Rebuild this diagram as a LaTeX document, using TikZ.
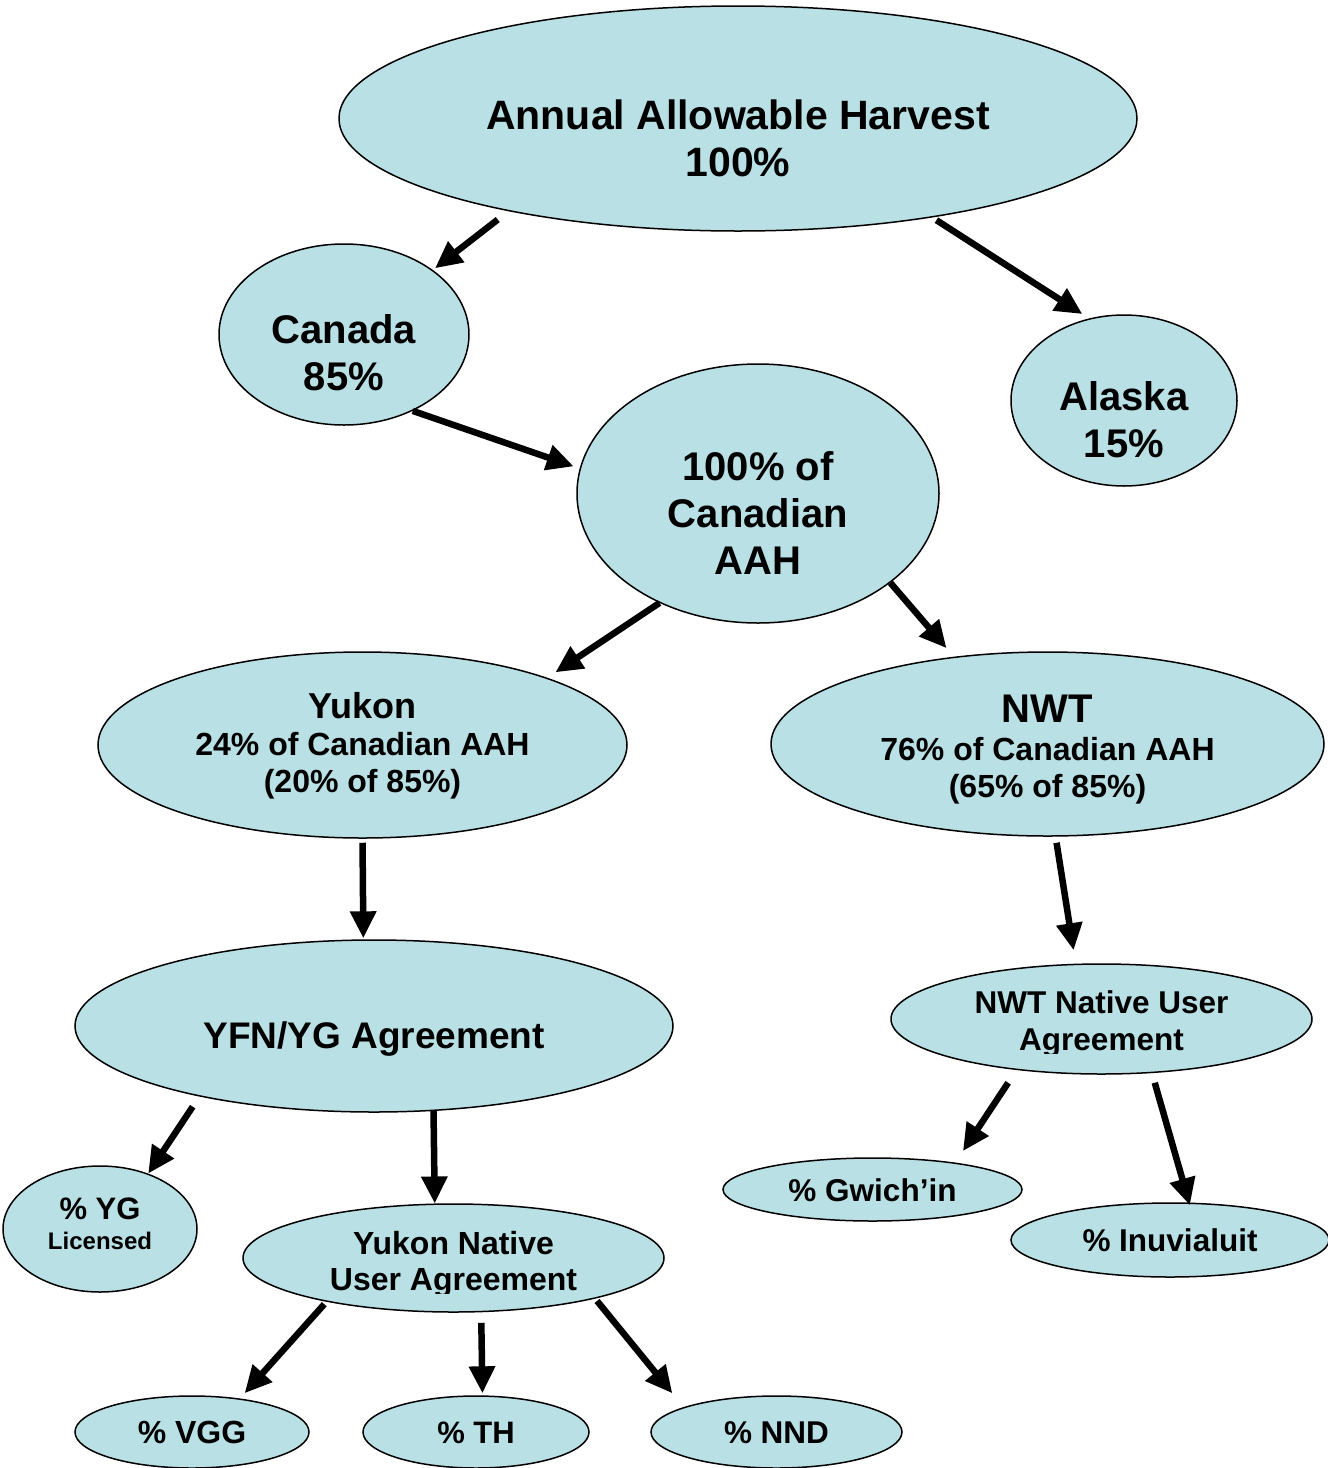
\documentclass[tikz,border=0pt]{standalone}
\usepackage{fontspec}
\setmainfont{Liberation Sans}
\usetikzlibrary{arrows.meta,shapes.geometric}
\definecolor{ovalfill}{RGB}{185,224,228}
\newcommand\myfs[1]{\fontsize{#1}{#1}\selectfont\bfseries}
\tikzset{
  oval/.style={ellipse, draw=black, line width=1.5pt, fill=ovalfill, inner sep=0pt},
  arr/.style={line width=6.5pt, -{Triangle[length=27pt,width=25pt]}},
  txt/.style={inner sep=0pt, anchor=base},
}
\begin{document}
\begin{tikzpicture}[x=1pt,y=-1pt]
\useasboundingbox (0,0) rectangle (1328,1468);
% ellipses
\node[oval, minimum width=798pt, minimum height=225pt] (top) at (738,118.5) {};
\node[oval, minimum width=250pt, minimum height=181pt] (canada) at (344,334.5) {};
\node[oval, minimum width=226pt, minimum height=171pt] (alaska) at (1124,400.5) {};
\node[oval, minimum width=362pt, minimum height=259pt] (cad) at (758,493.5) {};
\node[oval, minimum width=529pt, minimum height=186pt] (yukon) at (362.5,745) {};
\node[oval, minimum width=553pt, minimum height=184pt] (nwt) at (1047.5,744) {};
\node[oval, minimum width=598pt, minimum height=172pt] (yfn) at (374,1026) {};
\node[oval, minimum width=421pt, minimum height=110pt] (nwnua) at (1101.5,1019) {};
\node[oval, minimum width=194pt, minimum height=126pt] (yg) at (100,1229) {};
\node[oval, minimum width=421pt, minimum height=108pt] (ynua) at (453.5,1258) {};
\node[oval, minimum width=234pt, minimum height=72pt] (vgg) at (192,1432) {};
\node[oval, minimum width=226pt, minimum height=72pt] (th) at (476,1432) {};
\node[oval, minimum width=251pt, minimum height=72pt] (nnd) at (776.5,1432) {};
\node[oval, minimum width=299pt, minimum height=63pt] (gwich) at (872.5,1189.5) {};
\node[oval, minimum width=318pt, minimum height=74pt] (inuv) at (1170,1240) {};
% arrows
\draw[arr, shorten <=13.6pt, shorten >=2.7pt] (top.202.4) -- (canada.36.2);
\draw[arr, shorten <=5pt, shorten >=8.1pt] (top.333.2) -- (alaska.113.8);
\draw[arr, shorten >=6.3pt] (canada.312) -- (cad.172.6);
\draw[arr, shorten >=9.8pt] (cad.228.4) -- (yukon.20.2);
\draw[arr, shorten >=11.3pt] (cad.326.4) -- (nwt.137.9);
\draw[arr, shorten <=4pt, shorten >=1pt] (yukon.270) -- (yfn.97.86);
\draw[arr, shorten <=6.1pt, shorten >=13.6pt] (nwt.275.3) -- (nwnua.115.5);
\draw[arr, shorten <=12.2pt] (yfn.202.15) -- (yg.49);
\draw[arr] (yfn.305.15) -- (ynua.109.6);
\draw[arr, shorten <=15.2pt, shorten >=13.8pt] (nwnua.211.85) -- (gwich.18.2);
\draw[arr, shorten <=10pt, shorten >=-2.8pt] (nwnua.313) -- (inuv.63);
\draw[arr, shorten <=3.3pt, shorten >=7pt] (ynua.199.75) -- (vgg.35.7);
\draw[arr, shorten <=10.5pt, shorten >=2pt] (ynua.297.6) -- (th.80.78);
\draw[arr, shorten <=3pt, shorten >=17.8pt] (ynua.344.9) -- (nnd.165.2);
% texts
\node[txt, font=\myfs{41}] (t1a) at (738,129) {Annual Allowable Harvest};
\node[txt, font=\myfs{41}] (t1b) at (738,176) {100\%};
\node[txt, font=\myfs{40}] (t2a) at (344,343) {Canada};
\node[txt, font=\myfs{40}] (t2b) at (344,390) {85\%};
\node[txt, font=\myfs{40}] (t3a) at (1124,410) {Alaska};
\node[txt, font=\myfs{40}] (t3b) at (1124,457) {15\%};
\node[txt, font=\myfs{40}] (t4a) at (758,480) {100\% of};
\node[txt, font=\myfs{40}] (t4b) at (758,527) {Canadian};
\node[txt, font=\myfs{40}] (t4c) at (758,574) {AAH};
\node[txt, font=\myfs{36}] (t5a) at (362.5,718) {Yukon};
\node[txt, font=\myfs{32}] (t5b) at (362.5,755) {24\% of Canadian AAH};
\node[txt, font=\myfs{32}] (t5c) at (362.5,792) {(20\% of 85\%)};
\node[txt, font=\myfs{40}] (t6a) at (1047.5,722) {NWT};
\node[txt, font=\myfs{32}] (t6b) at (1047.5,760) {76\% of Canadian AAH};
\node[txt, font=\myfs{32}] (t6c) at (1047.5,797) {(65\% of 85\%)};
\node[txt, font=\myfs{37}] (t7) at (374,1048) {YFN/YG Agreement};
\begin{scope}
\clip (880,960) rectangle (1320,1053);
\node[txt, font=\myfs{31.5}] (t8a) at (1101.5,1013) {NWT Native User};
\node[txt, font=\myfs{31.5}] (t8b) at (1101.5,1050) {Agreement};
\end{scope}
\node[txt, font=\myfs{31}] (t9a) at (100,1219) {\% YG};
\node[txt, font=\myfs{24}] (t9b) at (100,1249) {Licensed};
\begin{scope}
\clip (240,1200) rectangle (670,1293);
\node[txt, font=\myfs{32}] (t10a) at (453.5,1254) {Yukon Native};
\node[txt, font=\myfs{32}] (t10b) at (453.5,1290) {User Agreement};
\end{scope}
\node[txt, font=\myfs{32}] (t11) at (192,1443) {\% VGG};
\node[txt, font=\myfs{31}] (t12) at (476,1443) {\% TH};
\node[txt, font=\myfs{31.5}] (t13) at (776.5,1443) {\% NND};
\node[txt, font=\myfs{31.5}] (t14) at (872.5,1201) {\% Gwich’in};
\node[txt, font=\myfs{31.5}] (t15) at (1170,1251) {\% Inuvialuit};
\end{tikzpicture}
\end{document}
